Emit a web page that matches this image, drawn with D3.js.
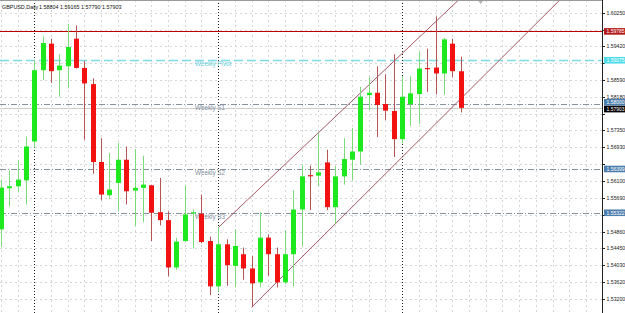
<!DOCTYPE html>
<html lang="en">
<head>
<meta charset="utf-8">
<title>GBPUSD,Daily</title>
<script src="https://d3js.org/d3.v7.min.js"></script>
<style>
  body { margin: 0; background: #fff; }
  svg { display: block; font-family: "Liberation Sans", Arial, sans-serif; }
</style>
</head>
<body>
<div id="chart"></div>
<script>
// daily bars, oldest first
var opens  = [1.54914,1.55925,1.55974,1.56120,1.57075,1.58830,1.59484,1.58830,1.58928,1.59606,
              1.58887,1.58488,1.56571,1.55753,1.56057,1.56627,1.55868,1.55934,1.55998,1.55337,
              1.55141,1.53976,1.54627,1.55310,1.55298,1.54627,1.53511,1.54546,1.54015,1.54302,
              1.53952,1.53609,1.54710,1.54302,1.53609,1.54302,1.55403,1.56248,1.56236,1.56561,
              1.55460,1.56218,1.56627,1.56830,1.58218,1.58275,1.57998,1.57827,1.57134,1.57991,
              1.58243,1.58884,1.58896,1.58750,1.59484,1.58804];
var highs  = [1.56138,1.56365,1.56610,1.57198,1.59075,1.59663,1.59606,1.59222,1.59973,1.59932,
              1.59058,1.58627,1.57158,1.56791,1.57036,1.56953,1.56889,1.56725,1.56015,1.56179,
              1.55354,1.54710,1.55991,1.55403,1.55770,1.54735,1.54955,1.54669,1.54914,1.54466,
              1.54260,1.55337,1.54791,1.54466,1.54889,1.55876,1.56505,1.56480,1.57281,1.56872,
              1.56463,1.57158,1.57403,1.58422,1.58666,1.58928,1.58732,1.59222,1.58683,1.58683,
              1.59278,1.59362,1.60152,1.59631,1.59606,1.59165];
var lows   = [1.54473,1.55477,1.55819,1.55526,1.56921,1.58586,1.58519,1.58177,1.58382,1.58870,
              1.57117,1.56284,1.55631,1.55665,1.55362,1.55526,1.54994,1.55092,1.54627,1.55012,
              1.53756,1.53917,1.54603,1.54441,1.54571,1.53298,1.53379,1.53526,1.53486,1.53673,
              1.52997,1.53486,1.53770,1.53486,1.53567,1.53511,1.54505,1.55386,1.55974,1.55386,
              1.55061,1.56015,1.56120,1.56505,1.57851,1.57183,1.57606,1.56693,1.57036,1.57459,
              1.57508,1.58299,1.58235,1.58218,1.58652,1.57790];
var closes = [1.55942,1.55974,1.56138,1.56953,1.58830,1.59499,1.58806,1.58945,1.59401,1.58887,
              1.58505,1.56571,1.55770,1.55893,1.56627,1.55851,1.55934,1.56015,1.55322,1.55141,
              1.53976,1.54613,1.55281,1.55335,1.54603,1.53511,1.54546,1.54032,1.54505,1.53952,
              1.53584,1.54710,1.54302,1.53609,1.54302,1.55403,1.56218,1.56223,1.56316,1.55460,
              1.56218,1.56644,1.56830,1.58177,1.58275,1.57974,1.57834,1.57134,1.58177,1.58260,
              1.58872,1.58860,1.58750,1.59589,1.58806,1.57903];

var priceTicks = ["1.60250","1.59830","1.59420","1.59000","1.58590","1.58180","1.57760","1.57350","1.56930",
                  "1.56520","1.56100","1.55690","1.55270","1.54860","1.54450","1.54030","1.53620","1.53200"];

var levelNames  = ["", "Weekly Pivot", "Weekly S1", "Weekly S2", "Weekly S3"];
var levelPrices = [1.59785, 1.59075, 1.58000, 1.56399, 1.55322];
var bidPrice = 1.57903;
var separatorBars = [4, 26, 48];
// trend lines: [bar, price] start and a second point
var trendStarts = [[26, 1.54955], [30, 1.52997]];
var trendEnds   = [[54.47, 1.60502], [66.8, 1.60544]];
var symbol = "GBPUSD,Daily";

var W = 625, H = 313, plotW = 602;

var svg = d3.select("#chart").append("svg")
    .attr("width", W)
    .attr("height", H);

var x = d3.scaleLinear().domain([0, 55]).range([0.8, 0.8 + 55 * 8.36]);
var y = d3.scaleLinear().domain([1.53200, 1.60250]).range([299, 12.5]);

svg.append("clipPath").attr("id", "plotclip")
  .append("rect").attr("x", 0).attr("y", 0).attr("width", plotW).attr("height", H);

var g = svg.append("g").attr("clip-path", "url(#plotclip)");

function crisp(v) { return Math.round(v) + 0.5; }

// grid
g.selectAll(".hgrid")
    .data(priceTicks)
    .enter().append("line")
    .attr("x1", 0).attr("x2", plotW)
    .attr("y1", function(d) { return crisp(y(+d)); })
    .attr("y2", function(d) { return crisp(y(+d)); })
    .attr("stroke", "#d6d6d6")
    .attr("stroke-dasharray", "2,3");

var vbars = d3.range(0, 72, 2).filter(function(i) { return separatorBars.indexOf(i) < 0; });
g.selectAll(".vgrid")
    .data(vbars)
    .enter().append("line")
    .attr("x1", function(d) { return crisp(x(d)); })
    .attr("x2", function(d) { return crisp(x(d)); })
    .attr("y1", 0).attr("y2", H)
    .attr("stroke", "#d6d6d6")
    .attr("stroke-dasharray", "2,3");

// period separators
g.selectAll(".sep")
    .data(separatorBars)
    .enter().append("line")
    .attr("x1", function(d) { return crisp(x(d)); })
    .attr("x2", function(d) { return crisp(x(d)); })
    .attr("y1", 0).attr("y2", H)
    .attr("stroke", "#222")
    .attr("stroke-dasharray", "1,2");

// level lines
var levelStroke = ["#c00000", "#7fdbe4", "#8593a0", "#8593a0", "#8593a0"];
var levelDash   = [null, "9,4", "6,2,1,2", "6,2,1,2", "6,2,1,2"];
var levelWidth  = [1, 1.6, 1, 1, 1];

g.append("line")
    .attr("x1", 0).attr("x2", plotW)
    .attr("y1", crisp(y(bidPrice))).attr("y2", crisp(y(bidPrice)))
    .attr("stroke", "#cdcdcd");

levelPrices.forEach(function(p, k) {
    g.append("line")
        .attr("x1", 0).attr("x2", plotW)
        .attr("y1", crisp(y(p))).attr("y2", crisp(y(p)))
        .attr("stroke", levelStroke[k])
        .attr("stroke-width", levelWidth[k])
        .attr("stroke-dasharray", levelDash[k]);
    if (levelNames[k]) {
        g.append("text")
            .attr("x", x(23) + 2)
            .attr("y", y(p) + 5.8)
            .attr("font-size", "6.3px")
            .attr("fill", k === 1 ? "#62cdd9" : "#7f909e")
            .text(levelNames[k]);
    }
});

// trend lines
trendStarts.forEach(function(s, k) {
    var e = trendEnds[k];
    var slope = (e[1] - s[1]) / (e[0] - s[0]);
    var far = s[0] + 40;
    g.append("line")
        .attr("x1", x(s[0])).attr("y1", y(s[1]))
        .attr("x2", x(far)).attr("y2", y(s[1] + slope * 40))
        .attr("stroke", "#9c4656")
        .attr("stroke-width", 0.9);
});

// candles
var bars = d3.range(opens.length);
var up = function(i) { return closes[i] >= opens[i]; };

g.selectAll(".wick")
    .data(bars)
    .enter().append("line")
    .attr("x1", function(i) { return crisp(x(i)); })
    .attr("x2", function(i) { return crisp(x(i)); })
    .attr("y1", function(i) { return y(highs[i]); })
    .attr("y2", function(i) { return y(lows[i]); })
    .attr("stroke", function(i) { return up(i) ? "#79dc79" : "#b45454"; });

g.selectAll(".body")
    .data(bars)
    .enter().append("rect")
    .attr("x", function(i) { return Math.round(x(i)) - 2; })
    .attr("width", 5)
    .attr("y", function(i) { return y(Math.max(opens[i], closes[i])); })
    .attr("height", function(i) { return Math.max(1.2, Math.abs(y(opens[i]) - y(closes[i]))); })
    .attr("fill", function(i) { return up(i) ? "#1ee81e" : "#f21212"; });

// chart shift marker
g.append("path")
    .attr("d", "M" + (x(57.4) - 3) + ",0 L" + (x(57.4) + 3) + ",0 L" + x(57.4) + ",4 Z")
    .attr("fill", "#b0b0b0");

// top border
svg.append("line")
    .attr("x1", 0).attr("x2", plotW).attr("y1", 0.5).attr("y2", 0.5)
    .attr("stroke", "#9a9a9a");

// price axis
svg.append("line")
    .attr("x1", plotW + 0.5).attr("x2", plotW + 0.5)
    .attr("y1", 0).attr("y2", H)
    .attr("stroke", "#222");

// tick labels hidden under a coloured price label are not drawn
var labelled = levelPrices.concat([bidPrice]).map(function(p) { return y(p); });
var ticks = svg.selectAll(".tick")
    .data(priceTicks)
    .enter().append("g")
    .attr("transform", function(d) { return "translate(" + plotW + "," + crisp(y(+d)) + ")"; });
ticks.append("line").attr("x1", 0).attr("x2", 3).attr("stroke", "#222");
ticks.filter(function(d) {
        var yy = y(+d);
        return !labelled.some(function(v) { return Math.abs(v - yy) < 6.5; });
    })
    .append("text")
    .attr("x", 4.5)
    .attr("dy", "0.35em")
    .attr("font-size", "5.2px")
    .attr("fill", "#222")
    .text(function(d) { return d; });

// price labels on axis
var labelFill = ["#b31b1b", "#4fdbe9", "#4d7fae", "#4d7fae", "#4d7fae"];
var labelShift = [0, 0, -1.7, 0, 0];
function priceLabel(p, fill, shift) {
    var yy = y(p) + shift;
    svg.append("rect")
        .attr("x", plotW + 2).attr("y", yy - 3.3)
        .attr("width", W - plotW - 2).attr("height", 6.6)
        .attr("fill", fill);
    svg.append("text")
        .attr("x", plotW + 4.5).attr("y", yy)
        .attr("dy", "0.35em")
        .attr("font-size", "5px")
        .attr("fill", "#fff")
        .text(p.toFixed(5));
}
levelPrices.forEach(function(p, k) { priceLabel(p, labelFill[k], labelShift[k]); });
priceLabel(bidPrice, "#000", 1.2);

// header
svg.append("text")
    .attr("x", 2).attr("y", 9)
    .attr("font-size", "5.4px")
    .attr("fill", "#111")
    .text(symbol);
var last = opens.length - 1;
svg.append("text")
    .attr("x", 39).attr("y", 9)
    .attr("font-size", "5.4px")
    .attr("fill", "#111")
    .text([opens[last], highs[last], lows[last], closes[last]].map(function(v) { return v.toFixed(5); }).join(" "));
</script>
</body>
</html>
